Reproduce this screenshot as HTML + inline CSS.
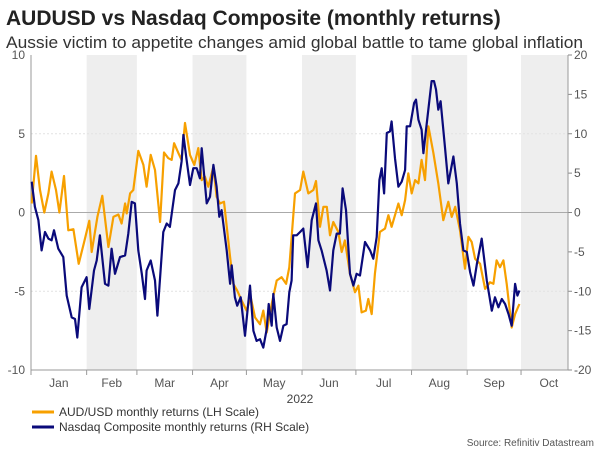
<!DOCTYPE html>
<html><head><meta charset="utf-8"><style>
body{margin:0;background:#fff;font-family:"Liberation Sans",Arial,sans-serif;}
#wrap{position:relative;width:600px;height:450px;overflow:hidden;}
</style></head><body>
<div id="wrap">
<svg id="chart" width="600" height="450" font-family="Liberation Sans, Arial, sans-serif">
<text x="6" y="25" font-size="21" font-weight="bold" fill="#222">AUDUSD vs Nasdaq Composite (monthly returns)</text>
<text x="6" y="48" font-size="17" fill="#333" textLength="577" lengthAdjust="spacingAndGlyphs">Aussie victim to appetite changes amid global battle to tame global inflation</text>
<g id="bands"></g><g id="grid"></g><g id="axes"></g><g id="series"></g>
<text x="300" y="403" font-size="12" fill="#444" text-anchor="middle">2022</text>
<line x1="32" y1="412" x2="54" y2="412" stroke="#f7a000" stroke-width="3"/>
<text x="59" y="416" font-size="12" fill="#333">AUD/USD monthly returns (LH Scale)</text>
<line x1="32" y1="427" x2="54" y2="427" stroke="#0a0a7a" stroke-width="3"/>
<text x="59" y="431" font-size="12" fill="#333">Nasdaq Composite monthly returns (RH Scale)</text>
<text x="594" y="446" font-size="10" fill="#555" text-anchor="end">Source: Refinitiv Datastream</text>
</svg></div>
<script>
const months=["Jan","Feb","Mar","Apr","May","Jun","Jul","Aug","Sep","Oct"];
const monthStartDays=[0,31,59,90,120,151,181,212,243,273,304];
const leftTicks=[10,5,0,-5,-10];
const rightTicks=[20,15,10,5,0,-5,-10,-15,-20];
const audDays=[0.4,2.8,5,7.4,9.7,11.5,13.9,15.8,18.4,20.8,23.6,26.6,29.5,32.5,33.8,37,39.7,43.1,45.9,48.7,50.5,52.4,53.3,55.2,57,59.8,62.6,64.4,66.7,69.1,71.9,74.1,76.5,78.4,79.7,82.1,83.9,85.8,88.6,91,93.2,95.1,96.9,98.8,101.6,103.4,105.3,107.5,110.9,112.7,114.9,117.4,120.1,122.4,124.8,127.6,129.4,131.3,134.1,136.9,139.6,142.1,143.9,147.1,149.9,151.7,154.5,157.3,158.8,161,162.9,164.8,166.6,168.4,171.2,173.1,174.9,177.7,180.5,182.4,184.2,186.6,187.9,189.8,191.6,194.4,197.2,199.1,200.9,204.7,206.5,208.4,210.2,212.1,214,215.8,217.6,219.5,221.4,224.2,226.9,229.7,232.5,234.4,236.3,239,241.8,243.7,245.5,247.4,250.2,253,255.7,257.6,259.4,261.3,263.2,265,267.8,269.7,272.1];
const audValues=[0.57,3.6,1.43,0,1.21,2.6,1.43,0,2.32,-1.13,-1.06,-3.26,-1.91,-0.53,-2.51,-0.28,1.06,-2.19,-0.28,-0.13,-0.7,0.57,-0.06,1.21,1.43,3.91,3.02,1.64,3.66,2.7,-0.6,3.81,3.45,3.34,4.4,3.77,3.34,5.68,3.66,3.02,4.09,2.06,2.28,1.64,2.91,1,0.57,0.68,-2.83,-4.53,-4.96,-5.6,-6.23,-5.38,-6.66,-7.09,-6.23,-7.62,-5.81,-4.32,-4.11,-4.53,-3.47,1.21,1.43,2.6,1.21,1.43,2,-0.91,0.36,0.36,-1.45,-0.6,-1.23,-2.51,-1.77,-3.89,-5.06,-4.64,-6.34,-6.23,-5.49,-6.45,-3.89,-1.23,-1.02,-0.17,-0.91,0.57,-0.17,0.79,2.49,1.21,2.06,1.85,3.34,2.06,5.47,3.77,1.85,-0.49,0.68,-0.28,0.36,-1.13,-3.57,-1.55,-1.87,-2.94,-3.26,-4.85,-4.43,-4.53,-3.04,-3.47,-3.04,-4.53,-7.3,-6.45,-5.81];
const ndqDays=[0.4,2.2,4.1,5.9,7.8,9.7,11.5,12.8,15.2,18,19.9,22.7,24.5,25.8,28.2,31,32.5,35.1,36.6,38.4,41.2,43.1,44.9,46.8,49.6,52.4,54.2,56.1,57.9,59.8,61.7,63.5,64.4,66.7,69.1,70.4,73.7,75.6,77.4,80.2,82.1,83.9,84.9,86.7,88.6,90.4,92.3,94.1,95.1,97.9,99.7,101.6,103.4,104.9,106.2,109,110.9,111.8,113.6,114.9,116.8,119.2,122,123.9,125.7,127.6,129.4,131.3,132.4,134.1,135,136.9,138.7,140.6,142.4,143.9,145.2,146.1,148,149.9,151.7,154.1,156.4,158.8,160.1,161.9,164.7,166.6,168.4,170.3,172.1,173.6,175.5,177.7,179.6,181.4,183.3,186.1,188.9,190.7,192.6,194.1,195.4,196.7,198.2,200,200.9,202.8,204.7,206.5,208.4,209.3,211.2,213.4,214.5,215.8,217.6,218.6,220.4,223.2,224.5,225.6,226.9,228.2,230.6,232.5,235.3,237.2,239,240.9,242.8,244.6,246.5,248.4,251.1,253.9,256.7,258.5,260.4,262.3,264.1,266,267.8,269.7,271,272.1];
const ndqValues=[3.91,0.72,-0.98,-4.81,-2.47,-3.32,-3.53,-2.26,-4.6,-5.66,-10.55,-13.32,-13.53,-15.87,-9.49,-8.21,-12.26,-7.36,-6.09,-2.89,-9.06,-9.28,-4.6,-7.79,-5.66,-5.45,-2.68,1.36,1.15,-4.81,-7.79,-10.98,-7.36,-6.09,-8.64,-13.11,-2.47,-1.4,-1.83,2.85,3.7,6.47,9.87,6.68,3.49,5.62,5.62,4.34,8.17,1.15,2,6.04,3.28,-0.55,0.3,-4.81,-9.06,-6.72,-10.77,-11.83,-10.77,-15.66,-9.28,-15.02,-16.3,-16.09,-17.15,-14.81,-11.62,-14.38,-10.34,-14.6,-16.3,-14.38,-14.17,-10.13,-8.64,-2.89,-2.89,-2.47,-2.04,-6.94,-0.98,1.15,-3.53,-4.81,-7.36,-9.91,-4.81,-2.68,-2.68,3.06,0.3,-7.79,-9.28,-7.79,-8,-3.74,-4.81,-5.87,-3.11,4.13,5.62,2.43,10.09,10.3,11.57,6.89,3.28,3.91,5.4,10.94,10.94,13.91,14.34,11.79,10.51,7.53,11.15,16.68,16.68,15.62,13.06,14.13,8.38,3.7,7.11,3.7,-1.4,-4.81,-5.02,-7.57,-9.28,-6.51,-3.32,-8.64,-12.47,-10.77,-12.04,-10.98,-11.62,-12.89,-14.38,-9.06,-10.55,-9.91];

const X0=31,X1=568,Y0=55,Y1=370,DAYS=(X1-X0)/1.795;
const xs=d=>X0+(d/DAYS)*(X1-X0);
const yL=v=>Y0+(10-v)/20*(Y1-Y0);
const yR=v=>Y0+(20-v)/40*(Y1-Y0);
const NS="http://www.w3.org/2000/svg";
function mk(tag,attrs,parent){const e=document.createElementNS(NS,tag);for(const k in attrs)e.setAttribute(k,attrs[k]);parent.appendChild(e);return e;}
const bands=document.getElementById('bands'),grid=document.getElementById('grid'),axes=document.getElementById('axes'),ser=document.getElementById('series');
for(let i=1;i<months.length;i+=2){
  const a=xs(monthStartDays[i]),b=Math.min(xs(monthStartDays[i+1]),X1);
  const r=mk('rect',{x:a,y:Y0,width:b-a,height:Y1-Y0,fill:'#eeeeee'},bands);
  
  
}
leftTicks.forEach(t=>{
  const y=yL(t);
  if(t!==10&&t!==-10){const l=mk('line',{x1:X0,x2:X1,y1:y,y2:y,stroke:t===0?'#aaa':'#e2e2e2','stroke-width':1,'stroke-dasharray':t===0?'':'2,2'},grid);
  
  }
  const tx=mk('text',{x:X0-6,y:y+4,'font-size':12,fill:'#555','text-anchor':'end'},axes);tx.textContent=t;
  
  
});
rightTicks.forEach(t=>{
  const y=yR(t);
  mk('line',{x1:X1,x2:X1+4,y1:y,y2:y,stroke:'#888'},axes);
  const tx=mk('text',{x:X1+6,y:y+4,'font-size':12,fill:'#555'},axes);tx.textContent=t;
  
  
});
mk('line',{x1:X0,x2:X0,y1:Y0,y2:Y1,stroke:'#999'},axes);
mk('line',{x1:X1,x2:X1,y1:Y0,y2:Y1,stroke:'#999'},axes);
mk('line',{x1:X0,x2:X1,y1:Y1,y2:Y1,stroke:'#999'},axes);
months.forEach((m,i)=>{
  const a=xs(monthStartDays[i]),b=xs(monthStartDays[i+1]);
  mk('line',{x1:a,x2:a,y1:Y1,y2:Y1+5,stroke:'#999'},axes);
  const tx=mk('text',{x:(a+b)/2,y:387,'font-size':12,fill:'#555','text-anchor':'middle'},axes);tx.textContent=m;
  
  
});
const pa=mk('path',{d:audDays.map((d,i)=>(i?'L':'M')+xs(d).toFixed(1)+' '+yL(audValues[i]).toFixed(1)).join(''),fill:'none',stroke:'#f7a000','stroke-width':2.2,'stroke-linejoin':'round'},ser);


const pn=mk('path',{d:ndqDays.map((d,i)=>(i?'L':'M')+xs(d).toFixed(1)+' '+yR(ndqValues[i]).toFixed(1)).join(''),fill:'none',stroke:'#0a0a7a','stroke-width':2.2,'stroke-linejoin':'round'},ser);


</script>
</body></html>
